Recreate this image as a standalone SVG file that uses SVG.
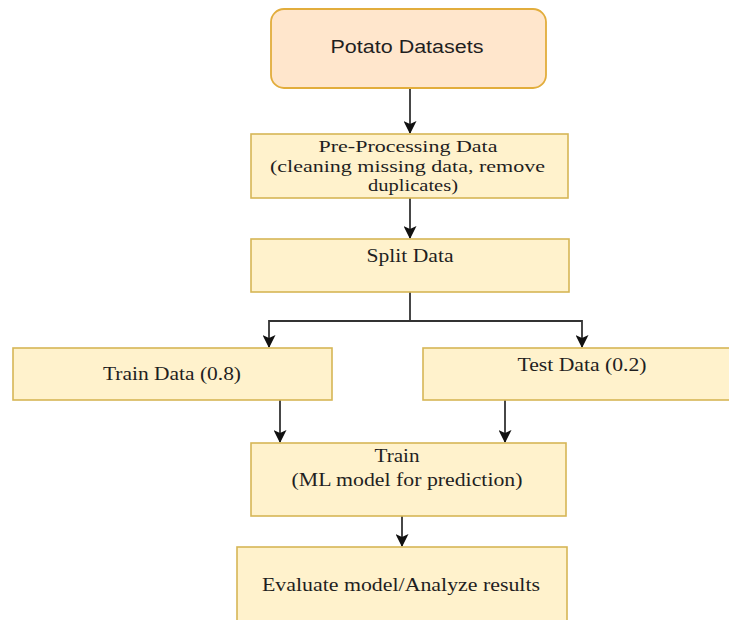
<svg xmlns="http://www.w3.org/2000/svg" width="729" height="620" viewBox="0 0 729 620">
  <style>
    .box { fill: #fff2cc; stroke: #d6b656; stroke-width: 1.6; }
    .start { fill: #ffe6cc; stroke: #e2ad3c; stroke-width: 1.8; }
    .serif { font-family: "Liberation Serif", "Times New Roman", serif; fill: #1f1f1f; text-anchor: middle; }
    .sans { font-family: "Liberation Sans", Arial, sans-serif; fill: #1f1f1f; text-anchor: middle; }
    .edge { fill: none; stroke: #333333; stroke-width: 1.8; }
  </style>
  <defs>
    <marker id="arrow" viewBox="0 0 13 13" refX="12" refY="6.5" markerWidth="13" markerHeight="13" markerUnits="userSpaceOnUse" orient="auto">
      <path d="M0,0 L13,6.5 L0,13 L3,6.5 z" fill="#111111"/>
    </marker>
  </defs>

  <rect width="729" height="620" fill="#ffffff"/>

  <g id="connectors">
    <path class="edge" d="M410,88 V133" marker-end="url(#arrow)"/>
    <path class="edge" d="M410,198 V238" marker-end="url(#arrow)"/>
    <path class="edge" d="M410,292 V321"/>
    <path class="edge" d="M410,321 H269 V347" marker-end="url(#arrow)"/>
    <path class="edge" d="M410,321 H582 V347" marker-end="url(#arrow)"/>
    <path class="edge" d="M280,400 V442" marker-end="url(#arrow)"/>
    <path class="edge" d="M505,400 V442" marker-end="url(#arrow)"/>
    <path class="edge" d="M402,516 V546" marker-end="url(#arrow)"/>
  </g>

  <g id="potato-datasets">
    <rect class="start" x="271" y="9" width="275" height="79" rx="13"/>
    <text class="sans" x="407" y="53" font-size="17.5" textLength="153" lengthAdjust="spacingAndGlyphs">Potato Datasets</text>
  </g>

  <g id="pre-processing">
    <rect class="box" x="251" y="134" width="317" height="64"/>
    <text class="serif" x="408" y="152" font-size="16.5" textLength="179" lengthAdjust="spacingAndGlyphs">Pre-Processing Data</text>
    <text class="serif" x="407.5" y="172" font-size="16.5" textLength="275" lengthAdjust="spacingAndGlyphs">(cleaning missing data, remove</text>
    <text class="serif" x="413" y="191" font-size="16.5" textLength="90" lengthAdjust="spacingAndGlyphs">duplicates)</text>
  </g>

  <g id="split-data">
    <rect class="box" x="251" y="239" width="318" height="53"/>
    <text class="serif" x="410" y="262" font-size="19.5" textLength="87" lengthAdjust="spacingAndGlyphs">Split Data</text>
  </g>

  <g id="train-data">
    <rect class="box" x="13" y="348" width="319" height="52"/>
    <text class="serif" x="172" y="380" font-size="18.5" textLength="138" lengthAdjust="spacingAndGlyphs">Train Data (0.8)</text>
  </g>

  <g id="test-data">
    <rect class="box" x="423" y="348" width="310" height="52"/>
    <text class="serif" x="582" y="371" font-size="18.5" textLength="129" lengthAdjust="spacingAndGlyphs">Test Data (0.2)</text>
  </g>

  <g id="train-model">
    <rect class="box" x="251" y="443" width="315" height="73"/>
    <text class="serif" x="397" y="462" font-size="18.5" textLength="45" lengthAdjust="spacingAndGlyphs">Train</text>
    <text class="serif" x="407" y="486" font-size="18.5" textLength="231" lengthAdjust="spacingAndGlyphs">(ML model for prediction)</text>
  </g>

  <g id="evaluate">
    <rect class="box" x="237" y="547" width="330" height="80"/>
    <text class="serif" x="401" y="591" font-size="19.5" textLength="278" lengthAdjust="spacingAndGlyphs">Evaluate model/Analyze results</text>
  </g>
</svg>
